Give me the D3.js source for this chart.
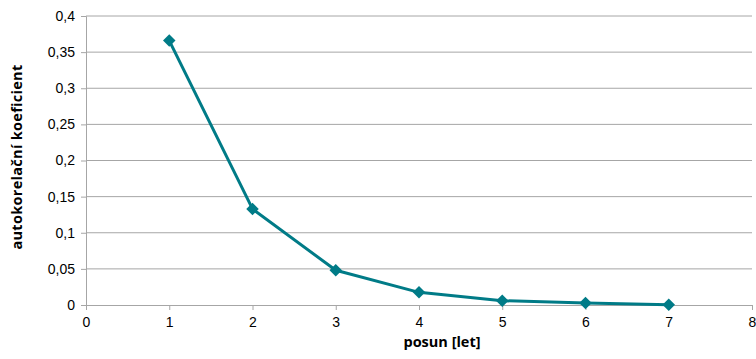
<!DOCTYPE html>
<html>
<head>
<meta charset="utf-8">
<script src="https://cdn.jsdelivr.net/npm/d3@7"></script>
<style>
  body { margin: 0; background: #fff; }
  text { font-family: "Open Sans", "Noto Sans", sans-serif; }
</style>
</head>
<body>
<div id="chart"></div>
<script>
// posun (lag) in years and autocorrelation coefficient
const lags = [1, 2, 3, 4, 5, 6, 7];
const coefs = [0.366, 0.133, 0.048, 0.0175, 0.006, 0.0028, 0.0005];
const yTicks = [0, 0.05, 0.1, 0.15, 0.2, 0.25, 0.3, 0.35, 0.4];
const xTicks = [0, 1, 2, 3, 4, 5, 6, 7, 8];

let width = 756, height = 359;
let margin = { top: 16, bottom: 54, left: 86, right: 4 };

let svg = d3.select('#chart')
  .append('svg')
  .attr('width', width)
  .attr('height', height)
  .style('background', 'white');

let xScale = d3.scaleLinear()
  .domain([0, 8])
  .range([margin.left, width - margin.right]);

let yScale = d3.scaleLinear()
  .domain([0, 0.4])
  .range([height - margin.bottom, margin.top]);

const fmt = d => String(d).replace('.', ',');

// gridlines
svg.append('g')
  .selectAll('line')
  .data(yTicks.filter(d => d > 0))
  .enter()
  .append('line')
    .attr('x1', margin.left)
    .attr('x2', width - margin.right)
    .attr('y1', d => yScale(d))
    .attr('y2', d => yScale(d))
    .attr('stroke', '#a6a6a6')
    .attr('stroke-width', 1);

// y axis
let yAxis = svg.append('g')
  .attr('transform', `translate(${margin.left},0)`)
  .call(d3.axisLeft(yScale).tickValues(yTicks).tickFormat(fmt).tickSize(5).tickPadding(6));

// x axis
let xAxis = svg.append('g')
  .attr('transform', `translate(0,${yScale(0)})`)
  .call(d3.axisBottom(xScale).tickValues(xTicks).tickFormat(fmt).tickSize(5).tickPadding(7));

[xAxis, yAxis].forEach(a => {
  a.select('.domain').attr('stroke', '#a6a6a6');
  a.selectAll('.tick line').attr('stroke', '#a6a6a6');
  a.selectAll('.tick text')
    .attr('fill', '#000')
    .style('font-size', '14px')
    .style('font-family', '"Liberation Sans", Arial, sans-serif');
});

// axis titles
svg.append('text')
  .attr('x', 442)
  .attr('y', 347)
  .attr('text-anchor', 'middle')
  .style('font-size', '14.5px')
  .style('font-weight', 'bold')
  .text('posun [let]');

svg.append('text')
  .attr('transform', `translate(22,157) rotate(-90)`)
  .attr('text-anchor', 'middle')
  .style('font-size', '14.5px')
  .style('font-weight', 'bold')
  .style('letter-spacing', '0.3px')
  .text('autokorelační koeficient');

// line
const data = lags.map((l, i) => ({ lag: l, value: coefs[i] }));

let line = d3.line()
  .x(d => xScale(d.lag))
  .y(d => yScale(d.value));

svg.append('path')
  .datum(data)
  .attr('d', line)
  .attr('fill', 'none')
  .attr('stroke', '#007b87')
  .attr('stroke-width', 3)
  .attr('stroke-linejoin', 'round');

// diamond markers
svg.selectAll('.marker')
  .data(data)
  .enter()
  .append('path')
    .attr('class', 'marker')
    .attr('d', d3.symbol().type(d3.symbolDiamond2).size(100))
    .attr('transform', d => `translate(${xScale(d.lag)},${yScale(d.value)})`)
    .attr('fill', '#007b87');
</script>
</body>
</html>
